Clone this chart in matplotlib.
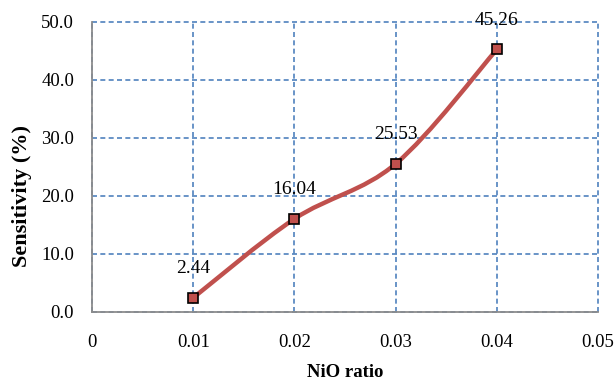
import numpy as np
import matplotlib.pyplot as plt
from matplotlib.path import Path
from matplotlib.patches import PathPatch

# data
nio_ratio = [0.01, 0.02, 0.03, 0.04]
sensitivity = [2.44, 16.04, 25.53, 45.26]
x_ticks = [0, 0.01, 0.02, 0.03, 0.04, 0.05]
x_ticklabels = ['0', '0.01', '0.02', '0.03', '0.04', '0.05']
y_ticks = [0, 10, 20, 30, 40, 50]

plt.rcParams['font.family'] = ['Liberation Serif', 'DejaVu Serif']

fig = plt.figure(figsize=(6.14, 3.85), dpi=100)
ax = fig.add_axes([0.150, 0.190, 0.824, 0.753])

ax.set_xlim(0, 0.05)
ax.set_ylim(0, 50)
ax.set_xticks(x_ticks)
ax.set_xticklabels(x_ticklabels)
ax.set_yticks(y_ticks)
ax.set_yticklabels(['%.1f' % v for v in y_ticks])
ax.tick_params(length=0, labelsize=13.5)
ax.tick_params(axis='y', pad=13)
ax.tick_params(axis='x', pad=16)

for s in ['top', 'right']:
    ax.spines[s].set_visible(False)
for s in ['left', 'bottom']:
    ax.spines[s].set_color('#8c8c8c')
    ax.spines[s].set_linewidth(1.3)

ax.grid(True, color='#4f81bd', linestyle=(0, (3, 2)), linewidth=1.2)
for line in ax.get_xgridlines() + ax.get_ygridlines():
    line.set_clip_on(False)
ax.set_axisbelow(True)

# smoothed line like excel (catmull-rom style bezier through the points)
pts = np.column_stack([nio_ratio, sensitivity])
ext = np.vstack([pts[0], pts, pts[-1]])
verts = [pts[0]]
codes = [Path.MOVETO]
for i in range(len(pts) - 1):
    p0, p1, p2, p3 = ext[i], ext[i + 1], ext[i + 2], ext[i + 3]
    verts += [p1 + (p2 - p0) / 6, p2 - (p3 - p1) / 6, p2]
    codes += [Path.CURVE4] * 3
curve = PathPatch(Path(verts, codes), facecolor='none', edgecolor='#c0504d',
                  linewidth=3.2, capstyle='round', zorder=3)
ax.add_patch(curve)

ax.plot(nio_ratio, sensitivity, linestyle='none', marker='s', markersize=7,
        markerfacecolor='#c0504d', markeredgecolor='black', markeredgewidth=1.2,
        zorder=4, clip_on=False)

for xv, yv in zip(nio_ratio, sensitivity):
    ax.annotate('%.2f' % yv, (xv, yv), xytext=(0, 21), textcoords='offset points',
                ha='center', va='center', fontsize=14)

# axis titles placed to match the reference
fig.text(0.562, 0.032, 'NiO ratio', fontsize=13.5, fontweight='bold',
         ha='center', va='center')
fig.text(0.036, 0.49, 'Sensitivity (%)', fontsize=16, fontweight='bold',
         ha='center', va='center', rotation=90)

fig.savefig('out.png', dpi=100)
